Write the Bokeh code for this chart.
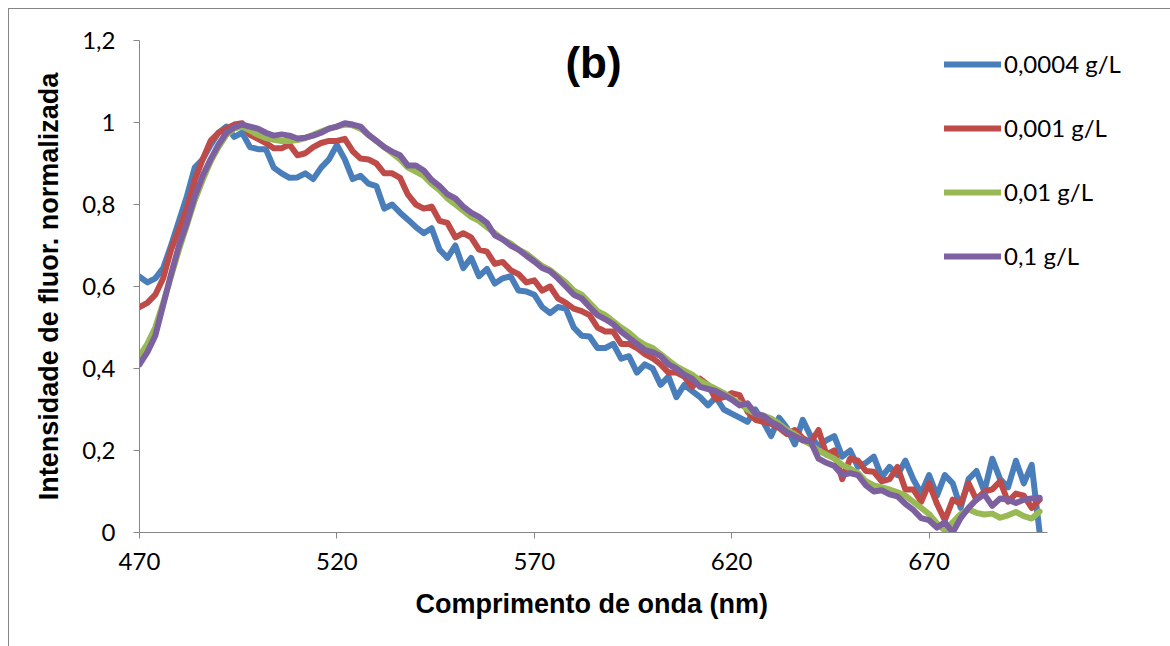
from bokeh.plotting import figure
from bokeh.models import FixedTicker, Legend, LegendItem, Label, Range1d, CustomJSTickFormatter, Title
from bokeh.embed import file_html
from bokeh.resources import INLINE

wavelength = list(range(470, 700, 2))

conc_0004 = [
    0.624, 0.61, 0.62, 0.645, 0.70, 0.76, 0.82, 0.89, 0.91, 0.945,
    0.975, 0.99, 0.965, 0.975, 0.94, 0.935, 0.935, 0.89, 0.876, 0.865,
    0.866, 0.876, 0.862, 0.89, 0.91, 0.945, 0.91, 0.862, 0.87, 0.851,
    0.845, 0.79, 0.80, 0.78, 0.763, 0.745, 0.73, 0.742, 0.69, 0.67,
    0.70, 0.645, 0.67, 0.625, 0.643, 0.607, 0.62, 0.625, 0.59, 0.588,
    0.58, 0.55, 0.535, 0.55, 0.546, 0.50, 0.48, 0.478, 0.45, 0.45,
    0.46, 0.424, 0.43, 0.39, 0.41, 0.40, 0.36, 0.38, 0.33, 0.36,
    0.345, 0.33, 0.31, 0.33, 0.30, 0.29, 0.28, 0.27, 0.30, 0.27,
    0.235, 0.28, 0.255, 0.215, 0.275, 0.235, 0.21, 0.225, 0.235, 0.185,
    0.20, 0.16, 0.17, 0.185, 0.135, 0.16, 0.14, 0.175, 0.13, 0.095,
    0.14, 0.09, 0.14, 0.12, 0.06, 0.13, 0.15, 0.10, 0.18, 0.13,
    0.11, 0.175, 0.12, 0.165, 0.0,
]

conc_001 = [
    0.55, 0.56, 0.58, 0.62, 0.69, 0.74, 0.79, 0.86, 0.91, 0.955,
    0.975, 0.985, 0.995, 0.998, 0.97, 0.96, 0.95, 0.937, 0.937, 0.946,
    0.92, 0.925, 0.94, 0.95, 0.955, 0.955, 0.96, 0.93, 0.912, 0.91,
    0.90, 0.876, 0.876, 0.865, 0.824, 0.80, 0.79, 0.795, 0.76, 0.755,
    0.72, 0.73, 0.72, 0.69, 0.685, 0.655, 0.66, 0.64, 0.63, 0.61,
    0.615, 0.59, 0.60, 0.571, 0.56, 0.546, 0.54, 0.53, 0.50, 0.49,
    0.49, 0.46, 0.46, 0.45, 0.435, 0.425, 0.41, 0.39, 0.39, 0.38,
    0.355, 0.375, 0.36, 0.325, 0.33, 0.34, 0.335, 0.295, 0.275, 0.27,
    0.265, 0.255, 0.24, 0.25, 0.23, 0.22, 0.25, 0.19, 0.20, 0.13,
    0.18, 0.175, 0.15, 0.148, 0.125, 0.13, 0.16, 0.105, 0.105, 0.075,
    0.12, 0.07, 0.03, 0.08, 0.07, 0.12, 0.08, 0.10, 0.105, 0.125,
    0.075, 0.095, 0.09, 0.06, 0.08,
]

conc_01 = [
    0.43, 0.46, 0.50, 0.56, 0.625, 0.69, 0.75, 0.81, 0.86, 0.905,
    0.94, 0.97, 0.985, 0.99, 0.98, 0.97, 0.962, 0.958, 0.955, 0.955,
    0.957, 0.962, 0.97, 0.978, 0.985, 0.99, 0.995, 0.993, 0.985, 0.97,
    0.955, 0.94, 0.925, 0.91, 0.89, 0.88, 0.87, 0.85, 0.835, 0.815,
    0.80, 0.785, 0.77, 0.76, 0.745, 0.73, 0.715, 0.705, 0.69, 0.68,
    0.665, 0.65, 0.64, 0.625, 0.61, 0.59, 0.58, 0.56, 0.54, 0.53,
    0.515, 0.50, 0.487, 0.47, 0.458, 0.45, 0.435, 0.42, 0.405, 0.395,
    0.385, 0.37, 0.36, 0.35, 0.34, 0.327, 0.315, 0.30, 0.29, 0.285,
    0.278, 0.265, 0.25, 0.24, 0.225, 0.215, 0.20, 0.19, 0.18, 0.165,
    0.156, 0.145, 0.125, 0.115, 0.11, 0.105, 0.098, 0.09, 0.075, 0.06,
    0.045, 0.022, 0.005, 0.025, 0.045, 0.056, 0.048, 0.044, 0.046, 0.036,
    0.042, 0.05, 0.04, 0.034, 0.051,
]

conc_1 = [
    0.41, 0.44, 0.48, 0.555, 0.63, 0.70, 0.755, 0.82, 0.87, 0.91,
    0.946, 0.975, 0.988, 0.995, 0.99, 0.985, 0.975, 0.968, 0.971, 0.968,
    0.961, 0.963, 0.968, 0.975, 0.985, 0.99, 0.998, 0.995, 0.99, 0.97,
    0.955, 0.94, 0.929, 0.92, 0.895, 0.895, 0.883, 0.86, 0.845, 0.825,
    0.815, 0.795, 0.78, 0.77, 0.755, 0.725, 0.715, 0.70, 0.69, 0.675,
    0.661, 0.645, 0.637, 0.62, 0.60, 0.58, 0.571, 0.55, 0.53, 0.52,
    0.508, 0.49, 0.475, 0.46, 0.445, 0.44, 0.43, 0.41, 0.40, 0.385,
    0.375, 0.355, 0.35, 0.345, 0.335, 0.324, 0.31, 0.315, 0.29, 0.285,
    0.27, 0.26, 0.245, 0.235, 0.225, 0.222, 0.18, 0.17, 0.162, 0.14,
    0.145, 0.14, 0.115, 0.10, 0.103, 0.093, 0.088, 0.07, 0.055, 0.035,
    0.03, 0.012, 0.025, 0.0, 0.035, 0.06, 0.08, 0.093, 0.065, 0.083,
    0.08, 0.072, 0.08, 0.083, 0.085,
]

series_names = ["0,0004 g/L", "0,001 g/L", "0,01 g/L", "0,1 g/L"]
series_values = [conc_0004, conc_001, conc_01, conc_1]
series_colors = ["#4A7EBB", "#BE4B48", "#98B954", "#7D60A0"]

x_ticks = [470, 520, 570, 620, 670]
y_ticks = [0, 0.2, 0.4, 0.6, 0.8, 1.0, 1.2]
x_axis_end = 700

AX = "#868686"

# frame extends to the right edge so that the legend is not clipped;
# the visible x axis is bounded to 470..700 (908 px for 230 nm)
px_per_nm = 908 / 230.0
frame_w = 1162 - 130
x_view_end = 470 + frame_w / px_per_nm

p = figure(width=1162, height=638, x_range=Range1d(470, x_view_end), y_range=Range1d(0, 1.2),
           output_backend="svg", toolbar_location=None,
           min_border_left=130, min_border_right=0, min_border_top=31, min_border_bottom=115,
           margin=(8, 0, 0, 8))
p.styles = {"border-left": f"1px solid {AX}", "border-top": f"1px solid {AX}"}
p.outline_line_color = None
p.xgrid.visible = False
p.ygrid.visible = False
p.background_fill_color = "white"
p.border_fill_color = "white"

fmt = CustomJSTickFormatter(code="return tick.toString().replace('.', ',');")

for ax in (p.xaxis[0], p.yaxis[0]):
    ax.axis_line_color = AX
    ax.major_tick_line_color = AX
    ax.minor_tick_line_color = None
    ax.major_tick_in = 0
    ax.major_tick_out = 6
    ax.major_label_text_font = "Lato"
    ax.major_label_text_font_size = "24px"
    ax.major_label_text_color = "black"
    ax.axis_label_text_font = "Liberation Sans"
    ax.axis_label_text_font_style = "bold"
    ax.axis_label_text_font_size = "27px"
    ax.axis_label_text_color = "black"
    ax.formatter = fmt

p.xaxis.bounds = (470, x_axis_end)
p.xaxis.ticker = FixedTicker(ticks=x_ticks)
p.yaxis.ticker = FixedTicker(ticks=y_ticks)
p.yaxis.axis_label = "Intensidade de fluor. normalizada"
p.xaxis.major_label_standoff = 14
p.yaxis.major_label_standoff = 18
p.yaxis.axis_label_standoff = 15

# x axis title, placed under the bounded axis (centred on 470..700, not on the whole frame)
xlabel = Title(text="Comprimento de onda (nm)", align="left", offset=276, standoff=28,
               text_font="Liberation Sans", text_font_style="bold", text_font_size="27px",
               text_color="black")
p.add_layout(xlabel, "below")

items = []
for name, vals, col in zip(series_names, series_values, series_colors):
    r = p.line(wavelength, vals, line_width=6, line_color=col, line_join="round", line_cap="round")
    items.append(LegendItem(label=name, renderers=[r]))

legend = Legend(items=items, location=(805, 262), glyph_width=57, glyph_height=20,
                label_standoff=3, spacing=35, padding=0, margin=0,
                border_line_color=None, background_fill_alpha=0,
                label_text_font="Lato", label_text_font_size="24px", label_text_color="black")
p.add_layout(legend, "center")

title = Label(x=585, y=1.147, text="(b)", text_font="Liberation Sans", text_font_style="bold",
              text_font_size="44px", text_align="center", text_baseline="middle", text_color="black")
p.add_layout(title)

open("out.html", "w").write(file_html(p, INLINE))
